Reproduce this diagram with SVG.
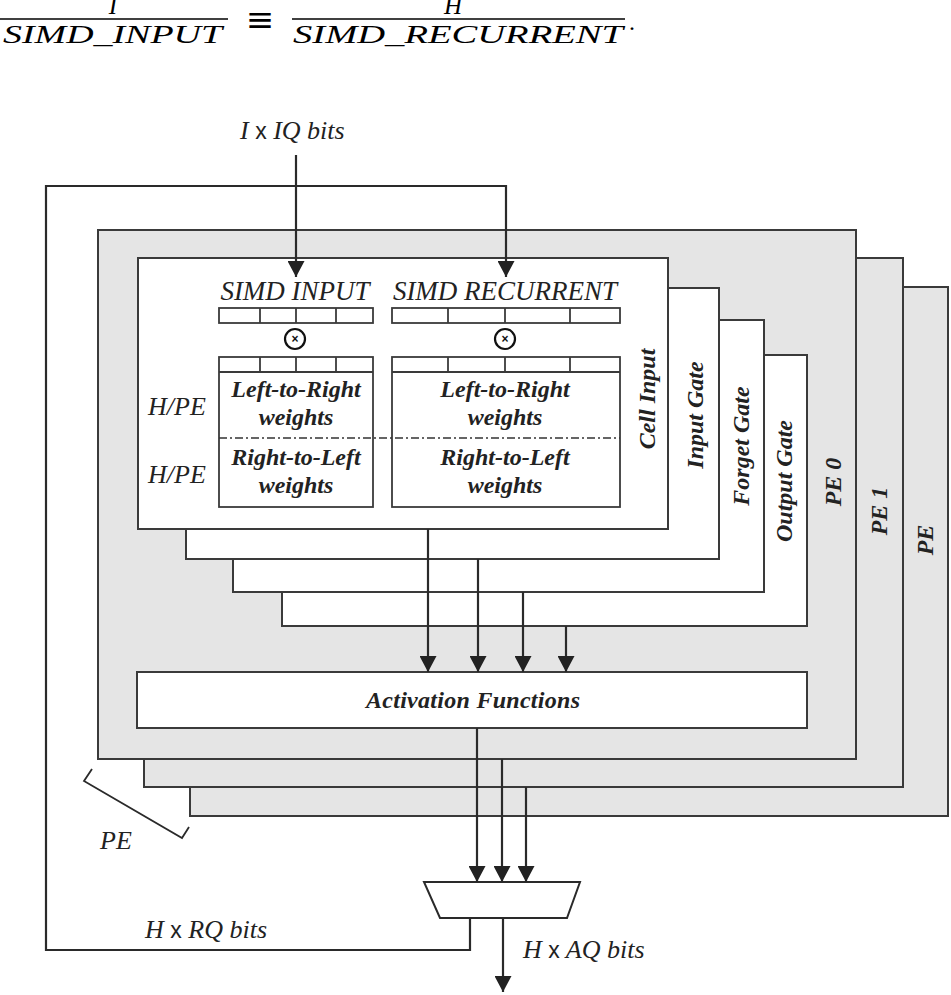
<svg xmlns="http://www.w3.org/2000/svg" width="951" height="995" viewBox="0 0 951 995">
<defs>
<style>
.pe{fill:#e5e5e5;stroke:#3a3a3a;stroke-width:2}
.box{fill:#ffffff;stroke:#3a3a3a;stroke-width:2}
.ln{fill:none;stroke:#2a2a2a;stroke-width:2.2}
.thin{fill:none;stroke:#3a3a3a;stroke-width:1.8}
.it{font-family:"Liberation Serif","Times New Roman",serif;font-style:italic;fill:#222}
.bi{font-family:"Liberation Serif","Times New Roman",serif;font-style:italic;font-weight:bold;fill:#222}
.sans{font-family:"Liberation Sans",Arial,sans-serif;font-style:normal;font-weight:normal}
.math{font-family:"Liberation Serif","Times New Roman",serif;font-style:italic;fill:#000}
</style>
<marker id="arr" markerUnits="userSpaceOnUse" markerWidth="17" markerHeight="17" refX="16" refY="8.5" orient="auto">
<path d="M0,0 L16,8.5 L0,17 z" fill="#222"/>
</marker>
</defs>
<rect width="951" height="995" fill="#ffffff"/>

<g id="formula">
<text class="math" x="113" y="14" font-size="25" text-anchor="middle">I</text>
<line x1="0" y1="19" x2="228" y2="19" stroke="#000" stroke-width="1.4"/>
<text class="math" x="3" y="43" font-size="25" textLength="219" lengthAdjust="spacingAndGlyphs">SIMD_INPUT</text>
<text x="260" y="31" font-size="34" text-anchor="middle" font-family="DejaVu Serif,serif" fill="#000">≡</text>
<text class="math" x="453" y="14" font-size="25" text-anchor="middle">H</text>
<line x1="292" y1="19" x2="625" y2="19" stroke="#000" stroke-width="1.4"/>
<text class="math" x="293" y="43" font-size="25" textLength="330" lengthAdjust="spacingAndGlyphs">SIMD_RECURRENT</text>
<text x="629" y="30" font-size="24" font-family="Liberation Serif,serif" fill="#000">.</text>
</g>

<g id="pe-n">
<rect class="pe" x="190" y="287" width="758" height="529"/>
<text class="bi" font-size="24" text-anchor="middle" transform="translate(933,540) rotate(-90)">PE</text>
</g>
<g id="pe-1">
<rect class="pe" x="144" y="258" width="759" height="529"/>
<text class="bi" font-size="24" text-anchor="middle" transform="translate(887,511) rotate(-90)">PE 1</text>
</g>
<g id="pe-0">
<rect class="pe" x="98" y="230" width="758" height="529"/>
<text class="bi" font-size="24" text-anchor="middle" transform="translate(841,482) rotate(-90)">PE 0</text>
</g>

<g id="output-gate">
<rect class="box" x="282" y="355" width="525" height="271"/>
<text class="bi" font-size="24" text-anchor="middle" transform="translate(792,481) rotate(-90)">Output Gate</text>
</g>
<g id="forget-gate">
<rect class="box" x="233" y="320" width="531" height="272"/>
<text class="bi" font-size="24" text-anchor="middle" transform="translate(749,446) rotate(-90)">Forget Gate</text>
</g>
<g id="input-gate">
<rect class="box" x="186" y="288" width="533" height="271"/>
<text class="bi" font-size="24" text-anchor="middle" transform="translate(703,415) rotate(-90)">Input Gate</text>
</g>
<g id="cell-input">
<rect class="box" x="138" y="258" width="530" height="271"/>
<text class="bi" font-size="24" text-anchor="middle" transform="translate(655,399) rotate(-90)">Cell Input</text>
<text class="it" x="295" y="300" font-size="27" text-anchor="middle">SIMD INPUT</text>
<text class="it" x="505" y="300" font-size="27" text-anchor="middle">SIMD RECURRENT</text>
<text class="it" x="148" y="415" font-size="26">H/PE</text>
<text class="it" x="148" y="483" font-size="26">H/PE</text>
</g>

<g id="simd-input-bar">
<rect class="thin" x="219" y="308" width="154" height="15" fill="#fff"/>
<line class="thin" x1="260" y1="308" x2="260" y2="323"/>
<line class="thin" x1="296" y1="308" x2="296" y2="323"/>
<line class="thin" x1="336" y1="308" x2="336" y2="323"/>
</g>
<g id="simd-recurrent-bar">
<rect class="thin" x="392" y="308" width="228" height="15" fill="#fff"/>
<line class="thin" x1="448" y1="308" x2="448" y2="323"/>
<line class="thin" x1="505" y1="308" x2="505" y2="323"/>
<line class="thin" x1="570" y1="308" x2="570" y2="323"/>
</g>
<g id="mult-input">
<circle cx="295" cy="339" r="10" fill="#fff" stroke="#111" stroke-width="2.2"/>
<text x="295" y="343" font-size="12" font-weight="bold" text-anchor="middle" font-family="Liberation Sans,sans-serif" fill="#111">×</text>
</g>
<g id="mult-recurrent">
<circle cx="505" cy="339" r="10" fill="#fff" stroke="#111" stroke-width="2.2"/>
<text x="505" y="343" font-size="12" font-weight="bold" text-anchor="middle" font-family="Liberation Sans,sans-serif" fill="#111">×</text>
</g>
<g id="input-weights">
<rect class="thin" x="219" y="357" width="154" height="150" fill="#fff"/>
<line class="thin" x1="219" y1="372" x2="373" y2="372"/>
<line class="thin" x1="260" y1="357" x2="260" y2="372"/>
<line class="thin" x1="296" y1="357" x2="296" y2="372"/>
<line class="thin" x1="336" y1="357" x2="336" y2="372"/>
<text class="bi" x="296" y="397" font-size="24" text-anchor="middle">Left-to-Right</text>
<text class="bi" x="296" y="425" font-size="24" text-anchor="middle">weights</text>
<text class="bi" x="296" y="465" font-size="24" text-anchor="middle">Right-to-Left</text>
<text class="bi" x="296" y="493" font-size="24" text-anchor="middle">weights</text>
</g>
<g id="recurrent-weights">
<rect class="thin" x="392" y="357" width="228" height="150" fill="#fff"/>
<line class="thin" x1="392" y1="372" x2="620" y2="372"/>
<line class="thin" x1="448" y1="357" x2="448" y2="372"/>
<line class="thin" x1="505" y1="357" x2="505" y2="372"/>
<line class="thin" x1="570" y1="357" x2="570" y2="372"/>
<text class="bi" x="505" y="397" font-size="24" text-anchor="middle">Left-to-Right</text>
<text class="bi" x="505" y="425" font-size="24" text-anchor="middle">weights</text>
<text class="bi" x="505" y="465" font-size="24" text-anchor="middle">Right-to-Left</text>
<text class="bi" x="505" y="493" font-size="24" text-anchor="middle">weights</text>
</g>
<line id="direction-split" x1="219" y1="438" x2="620" y2="438" stroke="#333" stroke-width="1.6" stroke-dasharray="8 3 2 3"/>

<g id="activation">
<rect class="box" x="137" y="672" width="670" height="56"/>
<text class="bi" x="473" y="708" font-size="24" text-anchor="middle" textLength="214" lengthAdjust="spacing">Activation Functions</text>
</g>

<g id="mux">
<path d="M424,882 L580,882 L567,918 L440,918 Z" fill="#fff" stroke="#2a2a2a" stroke-width="2"/>
</g>

<g id="labels">
<text class="it" x="240" y="139" font-size="26">I <tspan class="sans" font-size="23">x</tspan> IQ bits</text>
<text class="it" x="145" y="938" font-size="26">H <tspan class="sans" font-size="23">x</tspan> RQ bits</text>
<text class="it" x="523" y="958" font-size="26">H <tspan class="sans" font-size="23">x</tspan> AQ bits</text>
<text class="it" x="100" y="849" font-size="26">PE</text>
<polyline points="92,769 84,781 182,838 189,827" fill="none" stroke="#2a2a2a" stroke-width="1.8"/>
</g>

<g id="connectors">
<line class="ln" x1="296" y1="155" x2="296" y2="277" marker-end="url(#arr)"/>
<polyline class="ln" points="470,918 470,950 46,950 46,186 506,186 506,277" marker-end="url(#arr)"/>
<line class="ln" x1="428" y1="529" x2="428" y2="672" marker-end="url(#arr)"/>
<line class="ln" x1="478" y1="559" x2="478" y2="672" marker-end="url(#arr)"/>
<line class="ln" x1="523" y1="592" x2="523" y2="672" marker-end="url(#arr)"/>
<line class="ln" x1="566" y1="626" x2="566" y2="672" marker-end="url(#arr)"/>
<line class="ln" x1="477" y1="728" x2="477" y2="882" marker-end="url(#arr)"/>
<line class="ln" x1="502" y1="759" x2="502" y2="882" marker-end="url(#arr)"/>
<line class="ln" x1="526" y1="787" x2="526" y2="882" marker-end="url(#arr)"/>
<line class="ln" x1="503" y1="918" x2="503" y2="992" marker-end="url(#arr)"/>
</g>
</svg>
